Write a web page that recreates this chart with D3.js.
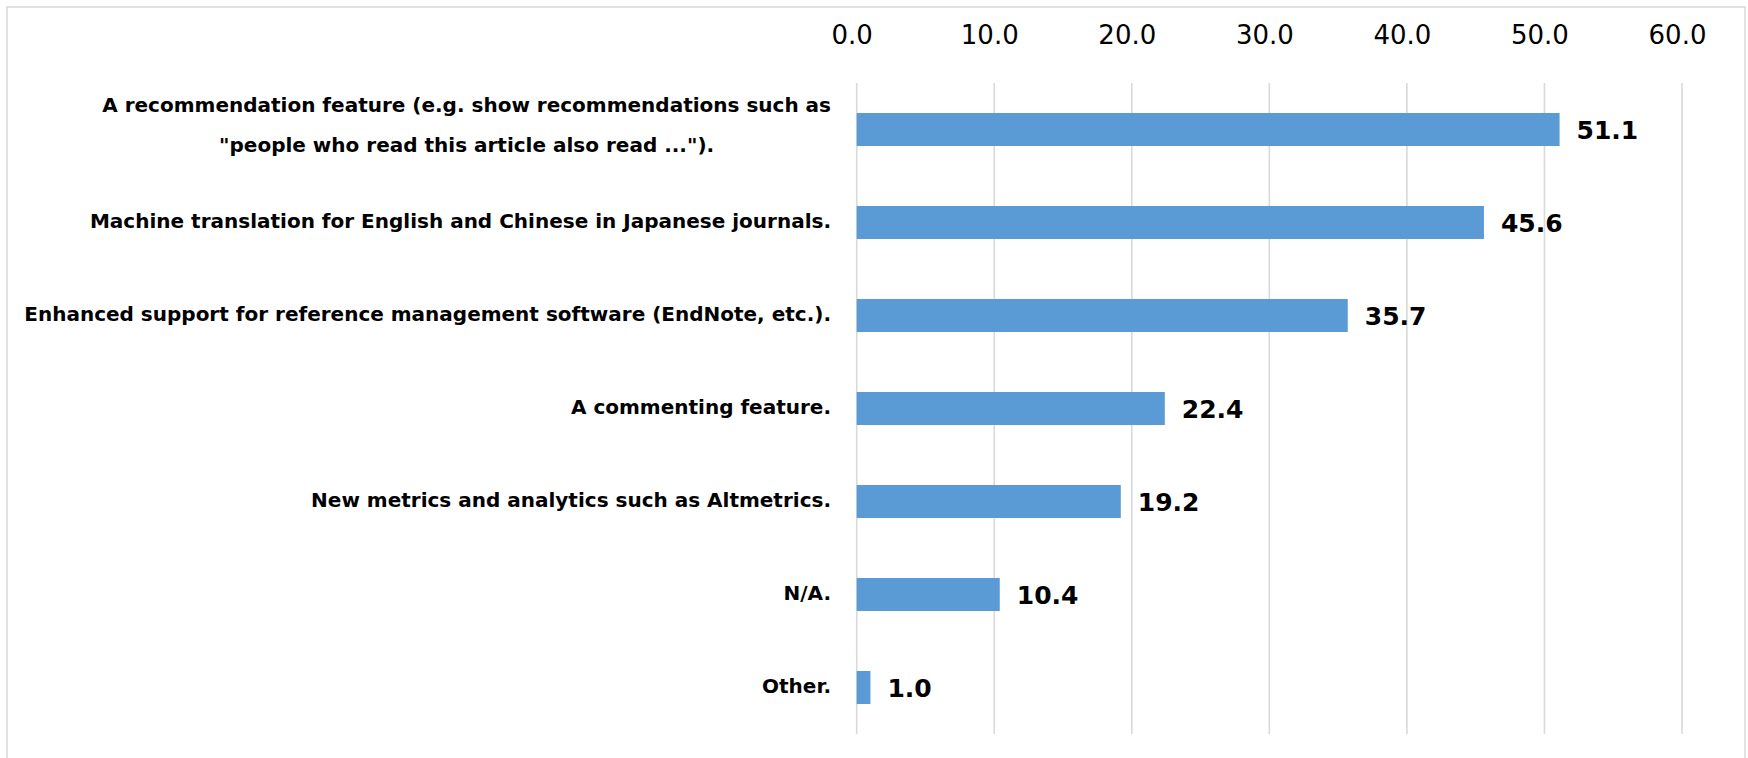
<!DOCTYPE html>
<html>
<head>
<meta charset="utf-8">
<script src="https://cdn.jsdelivr.net/npm/d3@7"></script>
<style>
  html, body { margin: 0; padding: 0; background: #fff; }
  svg { display: block; }
</style>
</head>
<body>
<svg id="chart" width="1748" height="758"></svg>
<script>
const categories = [
  "A recommendation feature (e.g. show recommendations such as \"people who read this article also read ...\").",
  "Machine translation for English and Chinese in Japanese journals.",
  "Enhanced support for reference management software (EndNote, etc.).",
  "A commenting feature.",
  "New metrics and analytics such as Altmetrics.",
  "N/A.",
  "Other."
];
const labelLines = [
  ["A recommendation feature (e.g. show recommendations such as", "\"people who read this article also read ...\")."],
  ["Machine translation for English and Chinese in Japanese journals."],
  ["Enhanced support for reference management software (EndNote, etc.)."],
  ["A commenting feature."],
  ["New metrics and analytics such as Altmetrics."],
  ["N/A."],
  ["Other."]
];
const values = [51.1, 45.6, 35.7, 22.4, 19.2, 10.4, 1.0];
const tickValues = [0, 10, 20, 30, 40, 50, 60];

const svg = d3.select("#chart");
const W = 1748, H = 758;
const font = "'DejaVu Sans', Verdana, sans-serif";

svg.append("rect").attr("width", W).attr("height", H).attr("fill", "#fff");
svg.append("rect")
  .attr("x", 7).attr("y", 7).attr("width", 1738).attr("height", 770)
  .attr("fill", "none").attr("stroke", "#d9d9d9").attr("stroke-width", 1.5);

const x = d3.scaleLinear().domain([0, 60]).range([856.7, 1682]);
const y = d3.scaleBand().domain(categories).range([83, 734])
  .paddingInner(0.645).paddingOuter(0.3225);

// gridlines
svg.append("g").selectAll("line").data(tickValues).join("line")
  .attr("x1", d => x(d)).attr("x2", d => x(d))
  .attr("y1", 83).attr("y2", 734)
  .attr("stroke", "#d9d9d9").attr("stroke-width", 1.6);

// tick labels (top axis)
const axis = d3.axisTop(x).tickValues(tickValues).tickFormat(d3.format(".1f")).tickSize(0);
const gAxis = svg.append("g").attr("transform", "translate(0,46.7)").call(axis);
gAxis.select(".domain").remove();
gAxis.selectAll("text")
  .attr("font-family", font).attr("font-size", 26).attr("fill", "#000")
  .attr("dy", 0).attr("x", -5);

// bars
svg.append("g").selectAll("rect").data(values).join("rect")
  .attr("x", x(0))
  .attr("y", (d, i) => y(categories[i]))
  .attr("width", d => x(d) - x(0))
  .attr("height", y.bandwidth())
  .attr("fill", "#5B9BD5");

// value labels
svg.append("g").selectAll("text").data(values).join("text")
  .attr("x", d => x(d) + 17)
  .attr("y", (d, i) => y(categories[i]) + y.bandwidth() / 2 + 9)
  .attr("font-family", font).attr("font-size", 25).attr("font-weight", "bold")
  .attr("fill", "#000")
  .text(d => d3.format(".1f")(d));

// category labels
const labelRight = 831;
const gLab = svg.append("g");
labelLines.forEach((lines, i) => {
  const cy = y(categories[i]) + y.bandwidth() / 2;
  if (lines.length === 1) {
    gLab.append("text")
      .attr("x", labelRight).attr("y", cy + 5)
      .attr("text-anchor", "end")
      .attr("font-family", font).attr("font-size", 20).attr("font-weight", "bold")
      .attr("fill", "#000").text(lines[0]);
  } else {
    const t1 = gLab.append("text")
      .attr("x", labelRight).attr("y", cy - 17.7)
      .attr("text-anchor", "end")
      .attr("font-family", font).attr("font-size", 20).attr("font-weight", "bold")
      .attr("fill", "#000").text(lines[0]);
    const w1 = t1.node().getComputedTextLength();
    const center = labelRight - w1 / 2;
    gLab.append("text")
      .attr("x", center).attr("y", cy + 22.3)
      .attr("text-anchor", "middle")
      .attr("font-family", font).attr("font-size", 20).attr("font-weight", "bold")
      .attr("fill", "#000").text(lines[1]);
  }
});
</script>
</body>
</html>
